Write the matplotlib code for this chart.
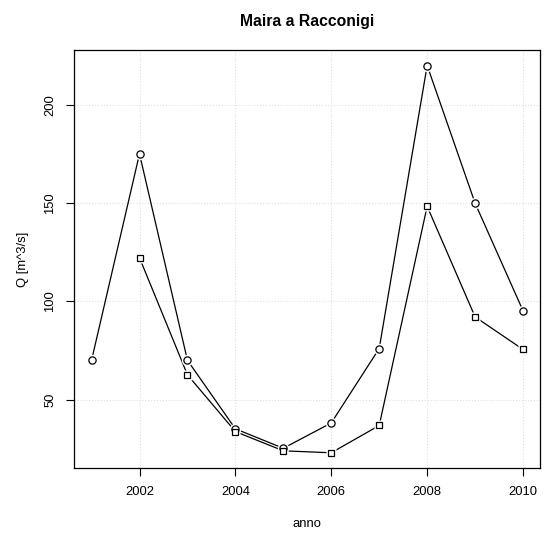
import numpy as np
import matplotlib
matplotlib.use("Agg")
import matplotlib.pyplot as plt

plt.rcParams.update({
    "font.family": ["Liberation Sans", "DejaVu Sans"],
    "font.size": 9.4,
})

# ── Data ─────────────────────────────────────────────────────────────────────
anni_max = [2001, 2002, 2003, 2004, 2005, 2006, 2007, 2008, 2009, 2010]
q_max = [70.0, 175.1, 70.0, 35.1, 25.2, 38.1, 76.0, 220.1, 150.0, 95.2]

anni_med = [2002, 2003, 2004, 2005, 2006, 2007, 2008, 2009, 2010]
q_med = [122.2, 62.6, 33.7, 23.9, 22.9, 36.8, 148.4, 92.1, 75.5]

xticks = [2002, 2004, 2006, 2008, 2010]
yticks = [50, 100, 150, 200]

# ── Figure ───────────────────────────────────────────────────────────────────
W, H = 545, 539
fig = plt.figure(figsize=(W / 100, H / 100), dpi=100)
ax = fig.add_axes([74.3 / W, 1 - 468.3 / H, (540.3 - 74.3) / W, (468.3 - 50) / H])

for xs, ys, mk, ms in [(anni_max, q_max, "o", 5.2), (anni_med, q_med, "s", 4.3)]:
    ax.plot(xs, ys, color="black", linewidth=0.9, zorder=2)
    # white halo to mimic R's type="b" gaps
    ax.plot(xs, ys, linestyle="none", marker=mk, markersize=ms + 3,
            markerfacecolor="white", markeredgecolor="none", zorder=3)
    ax.plot(xs, ys, linestyle="none", marker=mk, markersize=ms,
            markerfacecolor="white", markeredgecolor="black",
            markeredgewidth=0.9, zorder=4)

ax.set_xlim(2000.64, 2010.36)
ax.set_ylim(15.0, 228.0)
ax.set_xticks(xticks)
ax.set_yticks(yticks)
ax.set_yticklabels([str(v) for v in yticks], rotation=90, va="center")
ax.tick_params(direction="out", length=6, width=0.8, pad=7)
ax.grid(True, color="#e0e0e0", linestyle=":", linewidth=0.8)
ax.set_axisbelow(True)
for sp in ax.spines.values():
    sp.set_linewidth(0.9)

ax.set_title("Maira a Racconigi", fontweight="bold", fontsize=11.3, pad=17)
ax.set_xlabel("anno", labelpad=14)
ax.set_ylabel("Q [m^3/s]", labelpad=11)

fig.savefig("out.png", dpi=100)
